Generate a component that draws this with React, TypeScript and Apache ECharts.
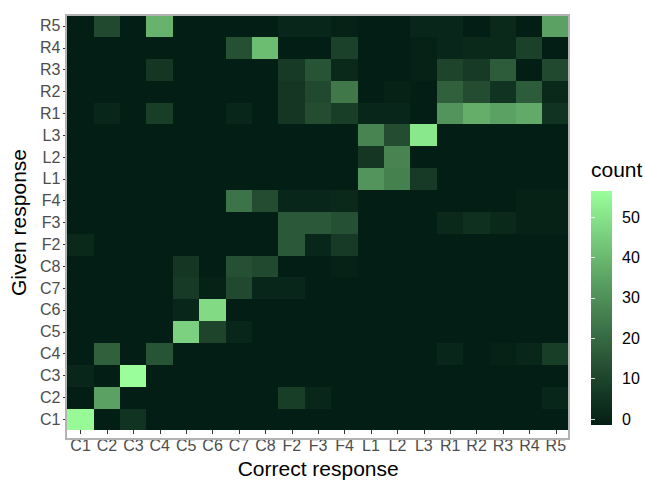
import React, { useEffect, useRef } from "react";
import * as echarts from "echarts";

// Categories (correct response on x, given response on y)
const correctCats = ["C1","C2","C3","C4","C5","C6","C7","C8","F2","F3","F4","L1","L2","L3","R1","R2","R3","R4","R5"];
const givenCats = ["C1","C2","C3","C4","C5","C6","C7","C8","F2","F3","F4","L1","L2","L3","R1","R2","R3","R4","R5"];

// Counts per given-response row, columns in correctCats order
const givenC1 = [54,0,6,0,0,0,0,0,0,0,0,0,0,0,0,0,0,0,0];
const givenC2 = [0,34,0,0,0,0,0,0,9,2,0,0,0,0,0,0,0,0,2];
const givenC3 = [2,0,55,0,0,0,0,0,0,0,0,0,0,0,0,0,0,0,0];
const givenC4 = [0,18,0,15,0,0,0,0,0,0,0,0,0,0,2,0,1,2,9];
const givenC5 = [0,0,0,0,45,11,2,0,0,0,0,0,0,0,0,0,0,0,0];
const givenC6 = [0,0,0,0,2,47,0,0,0,0,0,0,0,0,0,0,0,0,0];
const givenC7 = [0,0,0,0,8,1,12,2,2,0,0,0,0,0,0,0,0,0,0];
const givenC8 = [0,0,0,0,7,0,14,12,0,0,1,0,0,0,0,0,0,0,0];
const givenF2 = [3,0,0,0,0,0,0,0,16,2,8,0,0,0,0,0,0,0,0];
const givenF3 = [0,0,0,0,0,0,0,0,16,16,14,0,0,0,3,5,3,1,1];
const givenF4 = [0,0,0,0,0,0,23,13,2,2,3,0,0,0,0,0,0,1,1];
const givenL1 = [0,0,0,0,0,0,0,0,0,0,0,31,26,8,0,0,0,0,0];
const givenL2 = [0,0,0,0,0,0,0,0,0,0,0,7,27,0,0,0,0,0,0];
const givenL3 = [0,0,0,0,0,0,0,0,0,0,0,27,13,50,0,0,0,0,0];
const givenR1 = [0,2,0,9,0,0,2,0,7,13,9,2,2,0,31,37,34,36,6];
const givenR2 = [0,0,0,0,0,0,0,0,7,12,24,0,1,0,18,13,6,17,3];
const givenR3 = [0,0,0,7,0,0,0,0,8,15,3,0,0,1,11,8,17,0,12];
const givenR4 = [0,0,0,0,0,0,14,40,0,0,10,0,0,1,2,3,3,10,0];
const givenR5 = [0,12,0,38,0,0,0,0,2,2,1,0,0,2,2,0,3,0,34];

const givenRows = [givenC1,givenC2,givenC3,givenC4,givenC5,givenC6,givenC7,givenC8,givenF2,givenF3,givenF4,givenL1,givenL2,givenL3,givenR1,givenR2,givenR3,givenR4,givenR5];

const legendTicks = [0, 10, 20, 30, 40, 50];

const LOW = "#031f15";
const HIGH = "#9aff9a";
const FONT = "Liberation Sans, Arial, sans-serif";

// ---- Lab interpolation (like ggplot's gradient) ----
function srgbToLin(c: number) { c /= 255; return c <= 0.04045 ? c / 12.92 : Math.pow((c + 0.055) / 1.055, 2.4); }
function linToSrgb(c: number) { const v = c <= 0.0031308 ? 12.92 * c : 1.055 * Math.pow(c, 1 / 2.4) - 0.055; return Math.max(0, Math.min(255, Math.round(v * 255))); }
const XN = 0.95047, YN = 1.0, ZN = 1.08883;
function f(t: number) { return t > 216 / 24389 ? Math.cbrt(t) : (24389 / 27 * t + 16) / 116; }
function finv(t: number) { return t * t * t > 216 / 24389 ? t * t * t : (116 * t - 16) / (24389 / 27); }
function hexToLab(hex: string) {
  const r = srgbToLin(parseInt(hex.slice(1, 3), 16));
  const g = srgbToLin(parseInt(hex.slice(3, 5), 16));
  const b = srgbToLin(parseInt(hex.slice(5, 7), 16));
  const x = (0.4124 * r + 0.3576 * g + 0.1805 * b) / XN;
  const y = (0.2126 * r + 0.7152 * g + 0.0722 * b) / YN;
  const z = (0.0193 * r + 0.1192 * g + 0.9505 * b) / ZN;
  const fx = f(x), fy = f(y), fz = f(z);
  return [116 * fy - 16, 500 * (fx - fy), 200 * (fy - fz)];
}
function labToHex(L: number, a: number, bb: number) {
  const fy = (L + 16) / 116, fx = fy + a / 500, fz = fy - bb / 200;
  const x = finv(fx) * XN, y = finv(fy) * YN, z = finv(fz) * ZN;
  const r = 3.2406 * x - 1.5372 * y - 0.4986 * z;
  const g = -0.9689 * x + 1.8758 * y + 0.0415 * z;
  const b = 0.0557 * x - 0.2040 * y + 1.0570 * z;
  const h = (n: number) => linToSrgb(n).toString(16).padStart(2, "0");
  return "#" + h(r) + h(g) + h(b);
}
function labRamp(c1: string, c2: string, n: number) {
  const a = hexToLab(c1), b = hexToLab(c2);
  const out: string[] = [];
  for (let i = 0; i < n; i++) {
    const t = i / (n - 1);
    out.push(labToHex(a[0] + (b[0] - a[0]) * t, a[1] + (b[1] - a[1]) * t, a[2] + (b[2] - a[2]) * t));
  }
  return out;
}

export default function App() {
  const ref = useRef<HTMLDivElement>(null);
  useEffect(() => {
    if (!ref.current) return;
    const chart = echarts.init(ref.current, null, { renderer: "svg" });
    const data: number[][] = [];
    givenRows.forEach((row, yi) => row.forEach((v, xi) => data.push([xi, yi, v])));
    let maxVal = 0;
    data.forEach((d) => { if (d[2] > maxVal) maxVal = d[2]; });

    const ramp = labRamp(LOW, HIGH, 21);

    // legend bar geometry (ggplot colorbar, 20 bins)
    const barTop = 191, barH = 234, barLeft = 591, barW = 21;
    const pxPerUnit = barH / (maxVal * 20 / 19);
    const zeroY = barTop + barH - barH / 40;
    const legMax = 60;
    const legGridH = legMax * pxPerUnit;

    const option: any = {
      animation: false,
      backgroundColor: "#ffffff",
      textStyle: { fontFamily: FONT },
      grid: [
        { left: 66, right: 76, top: 15, bottom: 45, containLabel: false },
        { left: barLeft, width: barW, top: zeroY - legGridH, height: legGridH },
      ],
      xAxis: [
        {
          type: "category",
          gridIndex: 0,
          data: correctCats,
          name: "Correct response",
          nameLocation: "middle",
          nameGap: 23,
          nameTextStyle: { color: "#000", fontSize: 21, fontFamily: FONT },
          axisLine: { show: false },
          axisTick: { show: true, alignWithLabel: true, length: 4, lineStyle: { color: "#333333", width: 1.1 } },
          axisLabel: { color: "#4d4d4d", fontSize: 16, margin: 7, fontFamily: FONT, interval: 0 },
          splitLine: { show: false },
        },
        { type: "value", gridIndex: 1, show: false, min: 0, max: 1 },
      ],
      yAxis: [
        {
          type: "category",
          gridIndex: 0,
          data: givenCats,
          name: "Given response",
          nameLocation: "middle",
          nameRotate: 90,
          nameGap: 30,
          nameTextStyle: { color: "#000", fontSize: 21, fontFamily: FONT },
          axisLine: { show: false },
          axisTick: { show: true, alignWithLabel: true, length: 4, lineStyle: { color: "#333333", width: 1.1 } },
          axisLabel: { color: "#4d4d4d", fontSize: 16, margin: 7, fontFamily: FONT, interval: 0 },
          splitLine: { show: false },
        },
        {
          type: "value",
          gridIndex: 1,
          position: "right",
          min: 0,
          max: legMax,
          interval: 10,
          axisLine: { show: false },
          splitLine: { show: false },
          axisTick: { show: true, inside: true, length: 4, lineStyle: { color: "rgba(255,255,255,0.8)", width: 1 } },
          axisLabel: {
            show: true, margin: 10, color: "#000", fontSize: 16, fontFamily: FONT,
            formatter: (v: number) => (legendTicks.indexOf(v) >= 0 ? String(v) : ""),
          },
          z: 20,
        },
        {
          type: "value",
          gridIndex: 1,
          position: "left",
          min: 0,
          max: legMax,
          interval: 10,
          axisLine: { show: false },
          splitLine: { show: false },
          axisTick: { show: true, inside: true, length: 4, lineStyle: { color: "rgba(255,255,255,0.8)", width: 1 } },
          axisLabel: { show: false },
          z: 20,
        },
      ],
      visualMap: {
        show: false,
        type: "continuous",
        min: 0,
        max: maxVal,
        dimension: 2,
        seriesIndex: 0,
        inRange: { color: ramp },
      },
      graphic: [
        {
          type: "rect",
          z: -1,
          shape: { x: barLeft, y: barTop, width: barW, height: barH },
          style: {
            fill: new echarts.graphic.LinearGradient(0, 1, 0, 0,
              ramp.map((c, i) => ({ offset: i / (ramp.length - 1), color: c }))),
          },
        },
        {
          type: "rect",
          z: 100,
          shape: { x: 66, y: 15, width: 503, height: 424 },
          style: { fill: "none", stroke: "#b3b3b3", lineWidth: 1.3 },
        },
        {
          type: "text",
          z: 100,
          x: barLeft,
          y: 169.5,
          style: { text: "count", fontSize: 21, fontFamily: FONT, fill: "#000", verticalAlign: "middle", align: "left" },
        },
      ],
      series: [
        {
          type: "heatmap",
          xAxisIndex: 0,
          yAxisIndex: 0,
          data,
          emphasis: { disabled: true },
          itemStyle: { borderWidth: 0 },
        },
      ],
    };
    chart.setOption(option);
    return () => chart.dispose();
  }, []);
  return (
    <>
      <style>{`#root svg path{shape-rendering:crispEdges}`}</style>
      <div ref={ref} style={{ position: "fixed", left: 0, top: 0, width: 645, height: 484 }} />
    </>
  );
}
